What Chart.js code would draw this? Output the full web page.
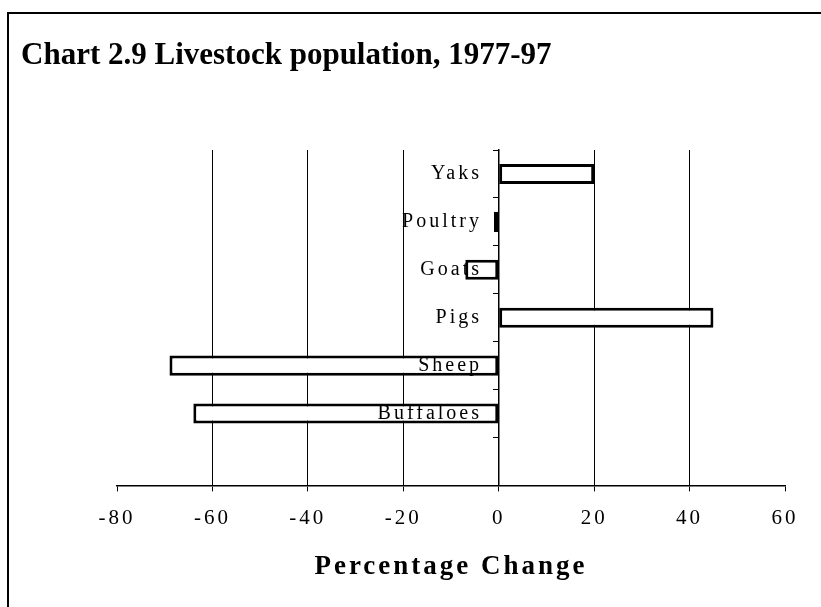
<!DOCTYPE html>
<html>
<head>
<meta charset="utf-8">
<script src="https://cdn.jsdelivr.net/npm/chart.js@4/dist/chart.umd.min.js"></script>
<style>
html, body { margin: 0; padding: 0; background: #fff; }
#wrap { width: 821px; height: 607px; position: relative; }
canvas { display: block; }
</style>
</head>
<body>
<div id="wrap"><canvas id="c" width="821" height="607"></canvas></div>
<script>
const chartTitle = 'Chart 2.9 Livestock population, 1977-97';
const axisTitle = 'Percentage Change';
const categories = ['Yaks', 'Poultry', 'Goats', 'Pigs', 'Sheep', 'Buffaloes', ''];
const changes = [20, -1, -7, 45, -69, -64, null];
const xTickValues = [-80, -60, -40, -20, 0, 20, 40, 60];
const xTickLabels = ['-80', '-60', '-40', '-20', '0', '20', '40', '60'];

const SPACING = '3px';
const serif = 'Liberation Serif';

const pagePlugin = {
  id: 'page',
  beforeLayout(chart) { chart.ctx.letterSpacing = SPACING; },
  beforeDraw(chart) {
    const ctx = chart.ctx;
    ctx.save();
    ctx.fillStyle = '#fff';
    ctx.fillRect(0, 0, chart.width, chart.height);
    ctx.strokeStyle = '#000';
    ctx.lineWidth = 2;
    ctx.beginPath();
    ctx.moveTo(8, chart.height);
    ctx.lineTo(8, 13);
    ctx.lineTo(chart.width, 13);
    ctx.stroke();
    ctx.restore();
    ctx.letterSpacing = SPACING;
  },
  afterDraw(chart) {
    const ctx = chart.ctx;
    ctx.save();
    ctx.letterSpacing = '0px';
    ctx.font = 'bold 31px "' + serif + '"';
    ctx.fillStyle = '#000';
    ctx.textAlign = 'left';
    ctx.textBaseline = 'alphabetic';
    ctx.fillText(chartTitle, 21, 64);
    ctx.restore();
  }
};

new Chart(document.getElementById('c'), {
  type: 'bar',
  data: {
    labels: categories,
    datasets: [{
      data: changes,
      yAxisID: 'y',
      backgroundColor: '#fff',
      borderColor: '#000',
      borderWidth: 3,
      borderSkipped: false,
      barPercentage: 0.42,
      categoryPercentage: 1
    }]
  },
  options: {
    indexAxis: 'y',
    responsive: false,
    animation: false,
    devicePixelRatio: 1,
    layout: { padding: { left: 117, right: 36, top: 150, bottom: 24 } },
    plugins: { legend: { display: false }, tooltip: { enabled: false }, title: { display: false } },
    scales: {
      x: {
        type: 'linear',
        min: xTickValues[0],
        max: xTickValues[xTickValues.length - 1],
        afterBuildTicks(scale) { scale.ticks = xTickValues.map(v => ({ value: v })); },
        ticks: {
          callback: (v) => xTickLabels[xTickValues.indexOf(v)],
          font: { family: serif, size: 21 },
          color: '#000',
          padding: 14,
          maxRotation: 0,
          autoSkip: false
        },
        grid: {
          color: (c) => (c.tick && (c.tick.value === xTickValues[0] || c.tick.value === xTickValues[xTickValues.length - 1])) ? 'rgba(0,0,0,0)' : '#000',
          lineWidth: 1,
          tickLength: 6,
          tickColor: '#000'
        },
        border: { display: true, color: '#000', width: 1.5 },
        title: {
          display: true,
          text: axisTitle,
          font: { family: serif, size: 27, weight: 'bold' },
          color: '#000',
          padding: { top: 6, bottom: 0 }
        }
      },
      y: {
        type: 'category',
        position: { x: 0 },
        offset: true,
        grid: { drawOnChartArea: false, drawTicks: true, tickLength: 5, tickColor: '#000', offset: true },
        border: { display: true, color: '#000', width: 1.5 },
        ticks: { display: false }
      },
      yl: {
        type: 'category',
        axis: 'y',
        position: { x: -3.5 },
        offset: true,
        grid: { display: false, offset: true },
        border: { display: false },
        ticks: {
          font: { family: serif, size: 20 },
          color: '#000',
          padding: 0,
          z: 1,
          autoSkip: false
        }
      }
    }
  },
  plugins: [pagePlugin]
});
</script>
</body>
</html>
